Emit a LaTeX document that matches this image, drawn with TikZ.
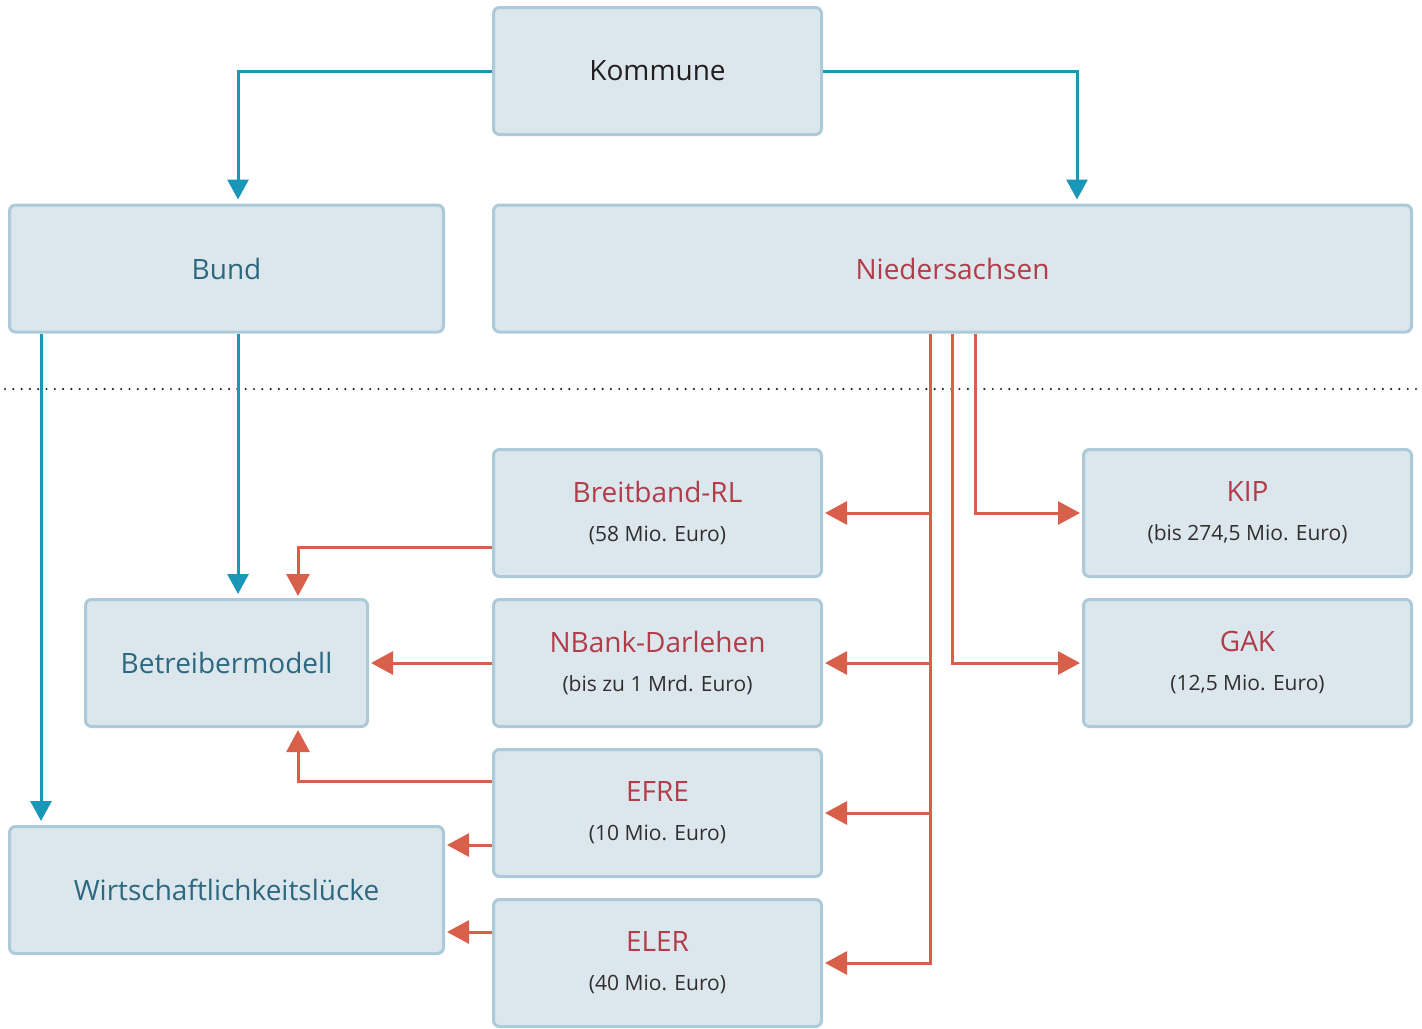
\documentclass[tikz,border=0pt]{standalone}
\usepackage{fontspec}
\setmainfont{Open Sans}
\usepackage{tikz}
\usetikzlibrary{calc,positioning,arrows.meta}
\definecolor{blau}{RGB}{26,150,184}
\definecolor{rot}{RGB}{216,96,74}
\definecolor{kastenfill}{RGB}{219,230,237}
\definecolor{kastenrand}{RGB}{172,202,215}
\definecolor{blautext}{RGB}{44,104,128}
\definecolor{rottext}{RGB}{178,60,72}
\definecolor{dunkel}{RGB}{35,31,32}
\definecolor{grautext}{RGB}{50,46,47}
\newcommand{\betrag}[1]{\\[2.5pt]{\fontsize{10.5}{12}\selectfont\color{grautext}#1}}
\tikzset{
    >={Triangle[length=10pt,width=10.5pt]},
    kasten/.style={
      rectangle,
      rounded corners=3pt,
      draw=kastenrand, line width=1.5pt,
      fill=kastenfill,
      minimum width=164pt,
      minimum height=63.5pt,
      inner sep=0pt,
      align=center,
      font=\fontsize{14}{17}\selectfont},
    blaulinie/.style={draw=blau, line width=1.5pt, ->, shorten >=2pt},
    rotlinie/.style={draw=rot, line width=1.5pt, -{Triangle[length=11pt,width=11.5pt]}, shorten >=1pt},
    trenner/.style={draw=dunkel, line width=1.2pt, dash pattern=on 0pt off 4.15pt, line cap=round},
}
\begin{document}
\begin{tikzpicture}[x=0.5pt, y=-0.5pt, node distance=10pt]
  \useasboundingbox (0,0) rectangle (1422,1028);
  % obere Ebene
  \node[kasten, text=dunkel] (kommune) at (657.5,71) {Kommune};
  \node[kasten, text=blautext, minimum width=217pt] (bund) at (226.5,268.5) {Bund};
  \node[kasten, text=rottext, minimum width=459pt] (nieders) at (952.5,268.5) {Niedersachsen};
  % Trennlinie
  \draw[trenner] (5,389) -- (1418,389);
  % Programme
  \node[kasten, text=rottext] (breit) at (657.5,513) {Breitband-RL\betrag{(58 Mio. Euro)}};
  \node[kasten, text=rottext, below=of breit] (nbank) {NBank-Darlehen\betrag{(bis zu 1 Mrd. Euro)}};
  \node[kasten, text=rottext, below=of nbank] (efre) {EFRE\betrag{(10 Mio. Euro)}};
  \node[kasten, text=rottext, below=of efre] (eler) {ELER\betrag{(40 Mio. Euro)}};
  \node[kasten, text=rottext] (kip) at (1247.5,513) {KIP\betrag{(bis 274,5 Mio. Euro)}};
  \node[kasten, text=rottext, below=of kip] (gak) {GAK\betrag{(12,5 Mio. Euro)}};
  % Ziele
  \node[kasten, text=blautext, minimum width=141pt] (betrieb) at (226.5,663) {Betreibermodell};
  \node[kasten, text=blautext, minimum width=217pt] (wirt) at (226.5,890) {Wirtschaftlichkeitslücke};
  % Verbindungen
  \coordinate (stamm) at ($(nieders.south)+(-22.5,0)$);
  \coordinate (efreab) at ($(efre.west)+(0,32)$);
  \coordinate (elerab) at ($(eler.west)+(0,-31)$);
  \draw[blaulinie] (kommune.west) -| ($(bund.north)+(11.5,0)$);
  \draw[blaulinie] (kommune.east) -| ($(nieders.north)+(124.5,0)$);
  \draw[blaulinie] ($(bund.south)+(11.5,0)$) -- ($(betrieb.north)+(11.5,0)$);
  \draw[blaulinie] ($(bund.south)+(-185.5,0)$) -- ($(wirt.north)+(-185.5,0)$);
  \draw[rotlinie] (stamm) |- (eler.east);
  \foreach \ziel in {breit,nbank,efre}
    \draw[rotlinie] (stamm |- \ziel.east) -- (\ziel.east);
  \draw[rotlinie] (nieders.south) |- (gak.west);
  \draw[rotlinie] ($(nieders.south)+(22.5,0)$) |- (kip.west);
  \draw[rotlinie] ($(breit.west)+(0,34)$) -| ($(betrieb.north)+(71.5,0)$);
  \draw[rotlinie] (nbank.west) -- (betrieb.east);
  \draw[rotlinie] ($(efre.west)+(0,-32)$) -| ($(betrieb.south)+(71.5,0)$);
  \draw[rotlinie] (efreab) -- (efreab -| wirt.east);
  \draw[rotlinie] (elerab) -- (elerab -| wirt.east);
\end{tikzpicture}
\end{document}
